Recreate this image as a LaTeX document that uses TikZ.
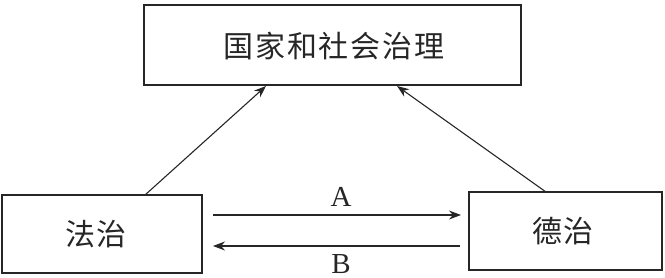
\documentclass[tikz,border=0pt]{standalone}
\usepackage{fontspec}
\newfontfamily\cjk[LetterSpace=6]{Noto Sans CJK SC}
\newfontfamily\latinser{Liberation Serif}
\usetikzlibrary{arrows.meta}
\begin{document}
\begin{tikzpicture}[x=1pt,y=-1pt,
  box/.style={draw=black!85,line width=1.2pt},
  conn/.style={draw=black!85,line width=1.1pt,-{Stealth[length=12pt,width=9pt]}},
  lbl/.style={font=\cjk\fontsize{30}{32}\selectfont,text=black!85,inner sep=0pt},
  letterlbl/.style={font=\latinser\fontsize{29}{31}\selectfont,text=black!85,inner sep=0pt}]
\useasboundingbox (0,0) rectangle (665,278);
\draw[box] (144,5) rectangle (521,85);
\node[lbl] (top) at (334,46) {国家和社会治理};
\coordinate (topL) at (266,86);
\coordinate (topR) at (397,86);
\draw[box] (2,195) rectangle (202,273);
\node[lbl] (fz) at (96,234) {法治};
\draw[box] (469,192) rectangle (662,270);
\node[lbl] (dz) at (563,231) {德治};
\coordinate (fzT) at (145,195);
\coordinate (dzT) at (546,192);
\coordinate (aS) at (213,215);
\coordinate (aE) at (461,215);
\coordinate (bS) at (460,246);
\coordinate (bE) at (213,246);
\draw[conn] (fzT) -- (topL);
\draw[conn] (dzT) -- (topR);
\draw[conn] (aS) -- (aE);
\draw[conn] (bS) -- (bE);
\node[letterlbl,anchor=base] (A) at (341,207) {A};
\node[letterlbl,anchor=base] (B) at (341,273) {B};
\end{tikzpicture}
\end{document}
